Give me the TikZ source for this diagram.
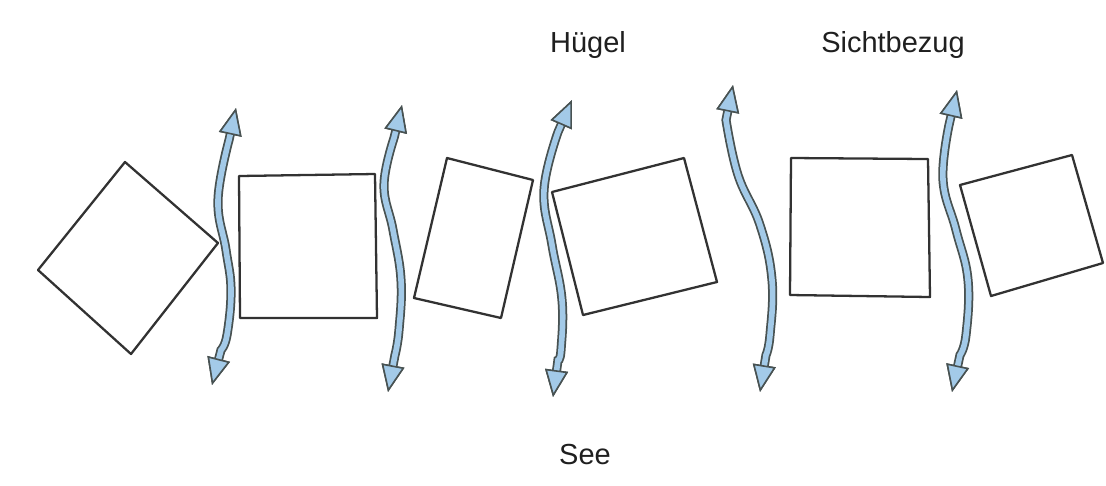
\documentclass[tikz,border=0pt]{standalone}
\usepackage{fontspec}
\newfontfamily\labelfont{Liberation Sans}
\usetikzlibrary{arrows.meta}
\definecolor{arrowblue}{RGB}{163,202,232}
\definecolor{outline}{RGB}{72,82,82}
\definecolor{pen}{RGB}{50,50,50}
\tikzset{
  tips/.style={{Triangle[length=0.54cm,width=0.46cm,line width=0.9pt,color=outline,fill=arrowblue]}-{Triangle[length=0.54cm,width=0.46cm,line width=0.9pt,color=outline,fill=arrowblue]}},
  sight/.style={draw=arrowblue,line width=3.2pt,tips,
    preaction={draw=outline,line width=5.2pt,tips}},
  house/.style={draw=pen,line width=1.3pt,line join=round},
  label/.style={font=\labelfont\fontsize{16.5}{20}\selectfont,anchor=base,text=black!88}
}
\begin{document}
\begin{tikzpicture}[x=0.02cm,y=-0.02cm]
  \useasboundingbox (0,0) rectangle (1106,485);
  \draw[house] (125,162) -- (218,243) -- (131,354) -- (38,270) -- cycle;
  \draw[house] (239,176) -- (375,174) -- (377,318) -- (240,318) -- cycle;
  \draw[house] (447,158) -- (533,180) -- (501,318) -- (414,298) -- cycle;
  \draw[house] (552,192) -- (684,158) -- (717,282) -- (583,315) -- cycle;
  \draw[house] (791,158) -- (928,159) -- (930,297) -- (790,295) -- cycle;
  \draw[house] (960,185) -- (1072,155) -- (1103,263) -- (991,296) -- cycle;
  \draw[sight] (236,108) -- plot[smooth,tension=0.7] coordinates {(229,140) (218,200) (226,250) (231,290) (227,335) (221,350)} -- (212,385);
  \draw[sight] (402,105) -- plot[smooth,tension=0.7] coordinates {(394,138) (384,185) (393,230) (401,280) (399,330) (395,355)} -- (388,392);
  \draw[sight] (572,100) -- plot[smooth,tension=0.7] coordinates {(558,132) (544,190) (552,245) (562,300) (561,350) (558,360)} -- (553,397);
  \draw[sight] (733,85) -- plot[smooth,tension=0.7] coordinates {(726,120) (738,175) (760,225) (772,280) (770,335) (766,355)} -- (760,392);
  \draw[sight] (957,90) -- plot[smooth,tension=0.7] coordinates {(949,125) (943,180) (956,230) (968,280) (966,335) (960,355)} -- (952,392);
  \node[label] (huegel) at (588,52) {Hügel};
  \node[label] (sicht) at (893,52) {Sichtbezug};
  \node[label] (see) at (585,464) {See};
\end{tikzpicture}
\end{document}
